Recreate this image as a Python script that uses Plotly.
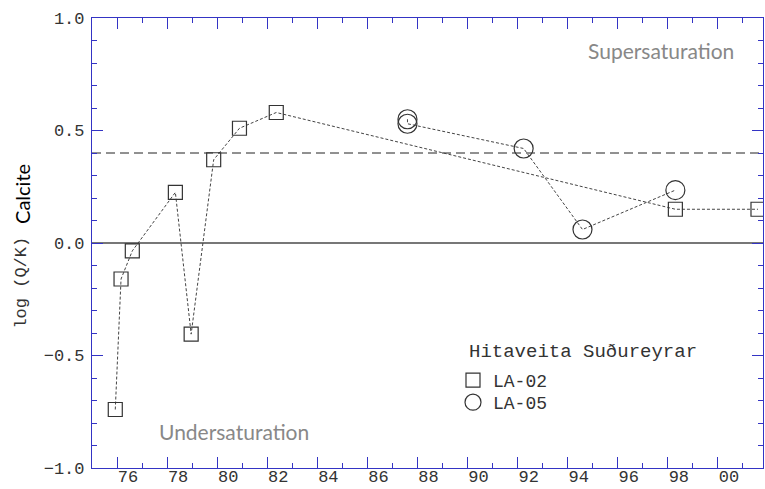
import plotly.graph_objects as go

# ---- data ----
la02_year = [1975.93, 1976.16, 1976.61, 1978.33, 1978.96, 1979.86, 1980.89, 1982.36, 1998.30, 2001.60]
la02_si = [-0.74, -0.16, -0.035, 0.225, -0.405, 0.37, 0.51, 0.58, 0.15, 0.15]
la05_year = [1987.60, 1987.60, 1992.24, 1994.59, 1998.30]
la05_si = [0.55, 0.53, 0.42, 0.06, 0.235]

x_tickvals = list(range(1976, 2001, 2))
x_ticktext = ["76", "78", "80", "82", "84", "86", "88", "90", "92", "94", "96", "98", "00"]
x_minorvals = list(range(1977, 2002, 2))
y_tickvals = [-1.0, -0.5, 0.0, 0.5, 1.0]
y_ticktext = ["\u22121.0", "\u22120.5", "0.0", "0.5", "1.0"]

equilibrium_level = 0.0
threshold_level = 0.40

AXIS_BLUE = "#3434c4"
MONO = "Liberation Mono"
SANS = "Lato"
TXT = "#333333"

fig = go.Figure()

fig.add_trace(go.Scatter(
    x=la02_year, y=la02_si, mode="lines+markers", showlegend=False,
    line=dict(color="#444444", width=1, dash="3px,2px"),
    marker=dict(symbol="square-open", size=14, color="#333333", line=dict(width=1.2)),
))
fig.add_trace(go.Scatter(
    x=la05_year, y=la05_si, mode="lines+markers", showlegend=False,
    line=dict(color="#444444", width=1, dash="3px,2px"),
    marker=dict(symbol="circle-open", size=19, color="#333333", line=dict(width=1.2)),
))
# legend-only entries
fig.add_trace(go.Scatter(
    x=[None], y=[None], mode="markers", name="LA-02", legend="legend",
    marker=dict(symbol="square-open", size=14, color="#333333", line=dict(width=1.2)),
))
fig.add_trace(go.Scatter(
    x=[None], y=[None], mode="markers", name="LA-05", legend="legend2",
    marker=dict(symbol="circle-open", size=18, color="#333333", line=dict(width=1.2)),
))

fig.add_hline(y=equilibrium_level, line=dict(color="#777777", width=2), layer="below")
fig.add_hline(y=threshold_level, line=dict(color="#222222", width=1, dash="9px,5px"), layer="below")

axis_common = dict(
    showline=True, linecolor=AXIS_BLUE, linewidth=1.2, mirror="ticks",
    ticks="inside", tickcolor=AXIS_BLUE, tickwidth=1.2, ticklen=11,
    showgrid=False, zeroline=False,
    tickfont=dict(family=MONO, size=17, color=TXT),
)

fig.update_xaxes(
    range=[1975.0, 2001.8], tickmode="array", tickvals=x_tickvals, ticktext=x_ticktext,
    minor=dict(tickmode="array", tickvals=x_minorvals, ticks="inside", ticklen=5,
               tickcolor=AXIS_BLUE, tickwidth=1.2, showgrid=False),
    ticklabelshift=11, ticklabelstandoff=-8,
    **axis_common,
)
fig.update_yaxes(
    range=[-1.0, 1.0], tickmode="array", tickvals=y_tickvals, ticktext=y_ticktext,
    minor=dict(tickmode="linear", tick0=0, dtick=0.1, ticks="inside", ticklen=5,
               tickcolor=AXIS_BLUE, tickwidth=1.2, showgrid=False),
    ticklabelstandoff=3,
    **axis_common,
)

annotations = [
    dict(text="Supersaturation", x=0.848, y=0.927, xref="paper", yref="paper",
         showarrow=False, font=dict(family=SANS, size=21, color="#888888"),
         xanchor="center", yanchor="middle"),
    dict(text="Undersaturation", x=0.211, y=0.082, xref="paper", yref="paper",
         showarrow=False, font=dict(family=SANS, size=21, color="#888888"),
         xanchor="center", yanchor="middle"),
    dict(text="Calcite", x=0, xshift=-70, y=0.609, xref="paper", yref="paper",
         showarrow=False, textangle=-90, font=dict(family=SANS, size=20, color="#000000"),
         xanchor="center", yanchor="middle"),
    dict(text="log (Q/K)", x=0, xshift=-70, y=0.412, xref="paper", yref="paper",
         showarrow=False, textangle=-90, font=dict(family=MONO, size=17, color=TXT),
         xanchor="center", yanchor="middle"),
    dict(text="Hitaveita Su\u00f0ureyrar", x=0.559, y=0.258, xref="paper", yref="paper",
         showarrow=False, font=dict(family=MONO, size=19, color=TXT),
         xanchor="left", yanchor="middle"),
]

legend_common = dict(xanchor="left", yanchor="top",
                     font=dict(family=MONO, size=18, color=TXT),
                     bgcolor="rgba(0,0,0,0)", itemwidth=30)

fig.update_layout(
    width=765, height=489,
    margin=dict(l=92, r=2, t=18, b=21, autoexpand=False),
    paper_bgcolor="white", plot_bgcolor="white",
    annotations=annotations,
    showlegend=True,
    legend=dict(x=0.538, y=0.2356, **legend_common),
    legend2=dict(x=0.538, y=0.1867, **legend_common),
)

fig.write_html("out.html")
